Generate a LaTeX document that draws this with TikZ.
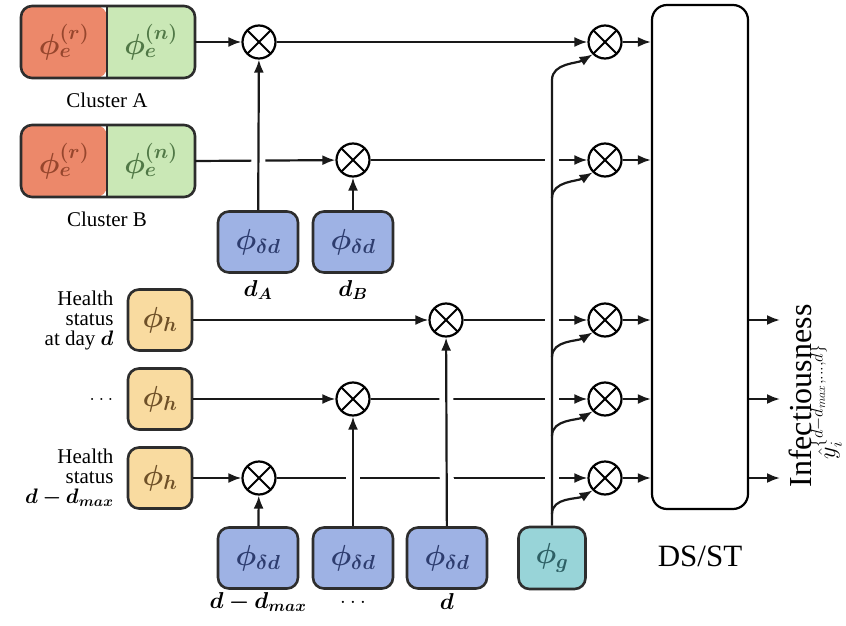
\RequirePackage{fix-cm}
\documentclass[tikz,border=0pt]{standalone}
\usepackage{fontspec}
\usepackage{amsmath,bm}
\setmainfont{Liberation Serif}
\usetikzlibrary{arrows.meta}

\definecolor{redfill}{RGB}{236,136,106}
\definecolor{redtext}{RGB}{150,70,45}
\definecolor{greenfill}{RGB}{202,232,182}
\definecolor{greentext}{RGB}{80,120,70}
\definecolor{bluefill}{RGB}{158,178,228}
\definecolor{bluetext}{RGB}{45,60,110}
\definecolor{orangefill}{RGB}{249,219,160}
\definecolor{orangetext}{RGB}{110,80,40}
\definecolor{tealfill}{RGB}{152,212,216}
\definecolor{tealtext}{RGB}{45,95,100}
\definecolor{edge}{RGB}{45,45,45}

\begin{document}
\begin{tikzpicture}[x=1pt,y=-1pt,
  box/.style={draw=edge, line width=2.6pt, rounded corners=11pt, inner sep=0pt},
  deltabox/.style={box, fill=bluefill, text=bluetext, minimum width=80pt, minimum height=61pt},
  hbox/.style={box, fill=orangefill, text=orangetext, minimum width=64pt, minimum height=61pt},
  gbox/.style={box, fill=tealfill, text=tealtext, minimum width=67pt, minimum height=62pt},
  mult/.style={circle, draw=black, line width=2.2pt, minimum size=33pt, inner sep=0pt, fill=white,
    path picture={
      \draw[black, line width=2pt] (path picture bounding box.center) ++(-11.7,-11.7) -- ++(23.4,23.4);
      \draw[black, line width=2pt] (path picture bounding box.center) ++(-11.7,11.7) -- ++(23.4,-23.4);
    }},
  lbl/.style={font=\fontsize{21}{23}\selectfont},
  mathbig/.style={font=\fontsize{29}{31}\selectfont, inner sep=0pt},
  mathlbl/.style={font=\fontsize{23}{25}\selectfont},
  conn/.style={line width=2.2pt, draw=black!90},
  arr/.style={conn, -{Latex[length=13pt,width=10pt]}},
  halo/.style={draw=white, line width=14pt}
]
\useasboundingbox (0,0) rectangle (846,626);

% ---- embedding boxes of the two clusters ----
\foreach \n/\y in {A/42,B/161}{
  \fill[redfill, rounded corners=11pt] (21,\y-36) -- (107,\y-36) -- (107,\y+36) -- (21,\y+36) -- cycle;
  \fill[greenfill] (107,\y-36) rectangle (130,\y+36);
  \fill[greenfill, rounded corners=11pt] (120,\y-36) -- (195,\y-36) -- (195,\y+36) -- (120,\y+36) -- cycle;
  \draw[edge, line width=2.6pt] (107,\y-36) -- (107,\y+36);
  \draw[edge, line width=2.6pt, rounded corners=11pt] (21,\y-36) rectangle (195,\y+36);
  \node[mathbig, text=redtext] at (64,\y) {$\bm{\phi_e^{(r)}}$};
  \node[mathbig, text=greentext] at (151,\y) {$\bm{\phi_e^{(n)}}$};
  \node[lbl] at (107,\y+58) {Cluster \n};
}
\coordinate (ca) at (195,42);
\coordinate (cb) at (195,161);

% ---- day-difference encoders ----
\node[deltabox, mathbig] (dA) at (258,242) {$\bm{\phi_{\delta d}}$};
\node[deltabox, mathbig] (dB) at (353,242) {$\bm{\phi_{\delta d}}$};
\node[mathlbl] at (258,290) {$\bm{d_A}$};
\node[mathlbl] at (353,290) {$\bm{d_B}$};

\node[deltabox, mathbig] (d1) at (258,558) {$\bm{\phi_{\delta d}}$};
\node[deltabox, mathbig] (d2) at (353,558) {$\bm{\phi_{\delta d}}$};
\node[deltabox, mathbig] (d3) at (447,558) {$\bm{\phi_{\delta d}}$};
\node[gbox, mathbig] (g) at (552,558) {$\bm{\phi_g}$};
\node[mathlbl] at (258,602) {$\bm{d-d_{max}}$};
\node[mathlbl] at (353,602) {$\ldots$};
\node[mathlbl] at (447,602) {$\bm{d}$};

% ---- health status encoders ----
\node[hbox, mathbig] (h1) at (160,320) {$\bm{\phi_h}$};
\node[hbox, mathbig] (h2) at (160,399) {$\bm{\phi_h}$};
\node[hbox, mathbig] (h3) at (160,478) {$\bm{\phi_h}$};
\node[lbl, anchor=east, align=right] at (117,320) {Health\\[-3pt]status\\[-3pt]at day $\bm{d}$};
\node[lbl, anchor=east] at (117,399) {$\ldots$};
\node[lbl, anchor=east, align=right] at (117,478) {Health\\[-3pt]status\\[-3pt]$\bm{d-d_{max}}$};

% ---- multipliers ----
\node[mult] (mA) at (259,42) {};
\node[mult] (mB) at (353,160) {};
\node[mult] (m1) at (446,320) {};
\node[mult] (m2) at (353,399) {};
\node[mult] (m3) at (259,478) {};
\node[mult] (r1) at (605,42) {};
\node[mult] (r2) at (605,160) {};
\node[mult] (r3) at (605,320) {};
\node[mult] (r4) at (605,399) {};
\node[mult] (r5) at (605,478) {};

% ---- DS/ST block ----
\node[draw=black, line width=2.2pt, rounded corners=15pt, minimum width=96pt, minimum height=504pt, inner sep=0pt, fill=white] (ds) at (700,257) {};
\node[font=\fontsize{31}{33}\selectfont] at (700,556) {DS/ST};

% ---- horizontal connectors ----
\draw[arr] (ca) -- (mA);
\draw[arr] (mA) -- (r1);
\draw[arr] (cb) -- (mB);
\draw[arr] (mB) -- (r2);
\draw[arr] (h1) -- (m1);
\draw[arr] (m1) -- (r3);
\draw[arr] (h2) -- (m2);
\draw[arr] (m2) -- (r4);
\draw[arr] (h3) -- (m3);
\draw[arr] (m3) -- (r5);
\foreach \r in {r1,r2,r3,r4,r5}{
  \draw[arr] (\r) -- (\r -| ds.west);
}

% ---- gaps where vertical connectors cross ----
\coordinate (gt) at (552,80);
\draw[halo, shorten <=3pt, shorten >=22pt] (dA.north) -- (mA.south);
\draw[halo, shorten <=3pt, shorten >=22pt] (d2.north) -- (m2.south);
\draw[halo, shorten <=3pt, shorten >=22pt] (d3.north) -- (m1.south);
\draw[halo, shorten <=3pt, shorten >=4pt] (g.north) -- (gt);

% ---- vertical connectors ----
\draw[arr] (dA) -- (mA);
\draw[arr] (dB) -- (mB);
\draw[arr] (d1) -- (m3);
\draw[arr] (d2) -- (m2);
\draw[arr] (d3) -- (m1);

% ---- global feature fan-out ----
\coordinate (gb2) at (552,198);
\coordinate (gb3) at (552,357);
\coordinate (gb4) at (552,436);
\coordinate (gb5) at (552,514);
\draw[arr] (g.north) -- (gt) .. controls +(0,-17) and +(-15,9) .. (r1.225);
\foreach \c/\r in {gb2/r2,gb3/r3,gb4/r4,gb5/r5}{
  \draw[arr] (\c) .. controls +(0,-17) and +(-15,9) .. (\r.225);
}

% ---- outputs ----
\coordinate (o1) at (780,320);
\coordinate (o2) at (780,399);
\coordinate (o3) at (780,478);
\foreach \o in {o1,o2,o3}{
  \draw[arr] (ds.east |- \o) -- (\o);
}
\node[rotate=90, font=\fontsize{32}{34}\selectfont, inner sep=0pt] at (800,396) {Infectiousness};
\node[rotate=90, font=\fontsize{24}{26}\selectfont, inner sep=0pt] at (826,402) {$\hat{y}_i^{\{d-d_{max},\ldots,d\}}$};
\end{tikzpicture}
\end{document}
